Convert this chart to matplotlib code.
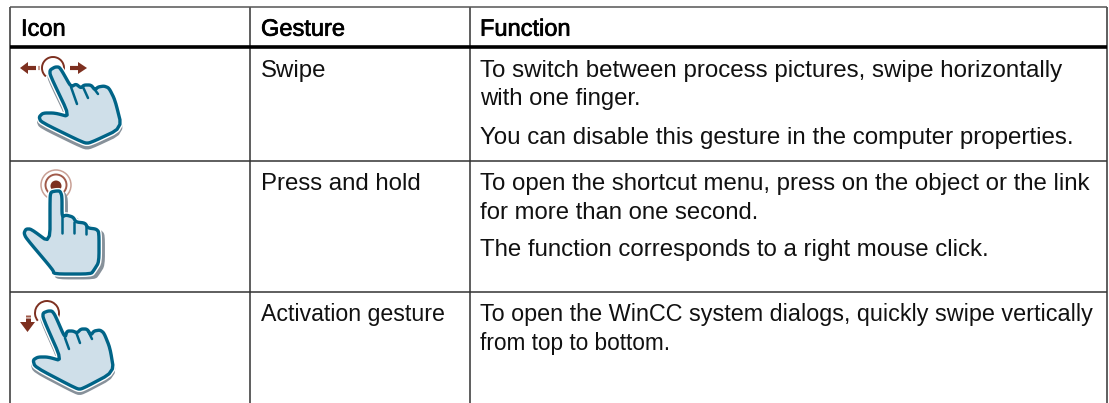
from matplotlib import pyplot as plt
from matplotlib import patheffects
from matplotlib.patches import Polygon, Arc, Circle

WIDTH = 1109
HEIGHT = 403

headers = ["Icon", "Gesture", "Function"]
gestures = ["Swipe", "Press and hold", "Activation gesture"]
function_lines = [
    "To switch between process pictures, swipe horizontally",
    "with one finger.",
    "You can disable this gesture in the computer properties.",
    "To open the shortcut menu, press on the object or the link",
    "for more than one second.",
    "The function corresponds to a right mouse click.",
    "To open the WinCC system dialogs, quickly swipe vertically",
    "from top to bottom.",
]
# baselines, same order as above
function_y = [76.7, 105, 144, 190, 219, 256, 321, 350]
function_size = [17.35, 17.2, 17.35, 17.25, 17.2, 17.3, 16.8, 16.3]
gesture_y = [76.7, 190, 321]
gesture_size = [17.3, 17.3, 16.7]

col_x = [10, 250, 470, 1107]
row_y = [7, 46.5, 160.5, 292.3, 403]

# hand outlines in picture pixels
hand_swipe = [(55, 67), (50, 70), (50, 75), (70, 117), (55, 113), (43, 113), (39, 117), (41, 122),
              (84, 143), (90, 143), (122, 128), (115, 100), (109, 88), (104, 86), (98, 87), (95, 90),
              (91, 85), (84, 85), (81, 88), (76, 84), (71, 87), (62, 71), (59, 67)]
hand_press = [(56, 191), (51, 192), (50, 197), (50, 243), (31, 229), (26, 229), (24, 233), (26, 238),
              (53, 270), (54, 274), (91, 274), (94, 270), (99, 262), (99, 232), (96, 229), (88, 228),
              (85, 223), (76, 222), (73, 217), (66, 215), (62, 217), (62, 196), (60, 191)]
hand_activate = [(48, 311), (43, 313), (43, 318), (62, 361), (48, 357), (38, 357), (33, 360), (35, 367),
                 (77, 389), (82, 389), (114, 372), (110, 348), (104, 333), (100, 330), (94, 331),
                 (91, 335), (87, 329), (81, 329), (77, 333), (73, 331), (67, 331), (65, 338),
                 (55, 315), (52, 311)]

creases_swipe = [((71, 87), (77, 104)), ((83, 87), (88, 98)), ((95, 90), (98, 94))]
creases_press = [((62, 217), (62, 233)), ((74, 222), (74, 233)), ((86, 226), (86, 234))]
creases_activate = [((65, 338), (69, 349)), ((76, 332), (80, 343)), ((88, 331), (92, 339))]

FILL = '#cfdfe9'
EDGE = '#006487'
SHADOW = '#87919a'
RED = '#7d3020'


def smooth(pts, q=0.18, rounds=2):
    # corner cutting so the fingers do not look faceted
    for _ in range(rounds):
        out = []
        for i, (x0, y0) in enumerate(pts):
            x1, y1 = pts[(i + 1) % len(pts)]
            out.append((x0 + q * (x1 - x0), y0 + q * (y1 - y0)))
            out.append((x1 - q * (x1 - x0), y1 - q * (y1 - y0)))
        pts = out
    return pts


def draw_hand(ax, pts, shift):
    pts = smooth(pts)
    shadow = [(x + shift[0], y + shift[1]) for x, y in pts]
    ax.add_patch(Polygon(shadow, closed=True, fc=SHADOW, ec=SHADOW, lw=3.5, joinstyle='round', zorder=2))
    ax.add_patch(Polygon(pts, closed=True, fc='white', ec='white', lw=4.4, joinstyle='round', zorder=3))
    ax.add_patch(Polygon(pts, closed=True, fc=FILL, ec=EDGE, lw=2.4, joinstyle='round', zorder=4))


def draw_crease(ax, segs):
    for (x0, y0), (x1, y1) in segs:
        ax.plot([x0, x1], [y0, y1], color=EDGE, lw=1.8, solid_capstyle='round', zorder=5)


def main():
    fig = plt.figure(figsize=(WIDTH / 100, HEIGHT / 100), dpi=100)
    ax = fig.add_axes([0, 0, 1, 1])
    ax.set_xlim(0, WIDTH)
    ax.set_ylim(HEIGHT, 0)
    ax.axis('off')

    # table rules
    for x in col_x:
        ax.plot([x, x], [row_y[0], row_y[-1]], color='#333333', lw=1.1, zorder=1, solid_capstyle='butt')
    ax.plot([col_x[0], col_x[-1]], [row_y[0], row_y[0]], color='#555555', lw=1.1, zorder=1, solid_capstyle='butt')
    ax.plot([col_x[0], col_x[-1]], [row_y[1], row_y[1]], color='black', lw=2.6, zorder=1, solid_capstyle='butt')
    for y in row_y[2:4]:
        ax.plot([col_x[0], col_x[-1]], [y, y], color='#333333', lw=1.1, zorder=1, solid_capstyle='butt')

    text_kw = dict(family='Liberation Sans', va='baseline', color='#111111')
    header_fx = [patheffects.withStroke(linewidth=0.5, foreground='black')]
    for x, label in zip([21, 261, 480], headers):
        ax.text(x, 35.7, label, family='Liberation Sans', fontsize=17, va='baseline', color='black',
                path_effects=header_fx)
    for y, size, label in zip(gesture_y, gesture_size, gestures):
        ax.text(261, y, label, fontsize=size, **text_kw)
    for y, size, label in zip(function_y, function_size, function_lines):
        ax.text(480, y, label, fontsize=size, **text_kw)

    # swipe icon
    ax.add_patch(Arc((53, 68), 22, 22, theta1=130, theta2=50, color=RED, lw=1.4, zorder=2))
    ax.add_patch(Polygon([(20, 68), (28, 62), (28, 74)], fc=RED, ec='none'))
    ax.add_patch(Polygon([(87, 68), (78, 62), (78, 74)], fc=RED, ec='none'))
    ax.plot([28, 36], [68, 68], color=RED, lw=3, solid_capstyle='butt')
    ax.plot([37.5, 39.5], [68, 68], color='#c9a095', lw=3, solid_capstyle='butt')
    ax.plot([70, 78], [68, 68], color=RED, lw=3, solid_capstyle='butt')
    draw_hand(ax, hand_swipe, (0, 4))
    draw_crease(ax, creases_swipe)

    # press icon
    ax.add_patch(Circle((56, 185), 15, fc='none', ec='#c9a095', lw=1.1, zorder=2))
    ax.add_patch(Circle((56, 185), 10.5, fc='none', ec='#a05a4a', lw=1.4, zorder=2))
    ax.add_patch(Circle((56, 186), 5.5, fc=RED, ec='none', zorder=2))
    draw_hand(ax, hand_press, (3.5, 3))
    draw_crease(ax, creases_press)

    # activation icon
    ax.add_patch(Arc((47, 313), 24, 24, theta1=140, theta2=30, color=RED, lw=1.4, zorder=2))
    ax.add_patch(Polygon([(20, 322), (35, 322), (27.5, 332)], fc=RED, ec='none'))
    ax.plot([27.5, 27.5], [314.5, 316.5], color='#a05a4a', lw=3.6, solid_capstyle='butt')
    ax.plot([27.5, 27.5], [317.5, 322], color=RED, lw=3.6, solid_capstyle='butt')
    draw_hand(ax, hand_activate, (0, 3.5))
    draw_crease(ax, creases_activate)

    fig.savefig('out.png', dpi=100)


if __name__ == '__main__':
    main()
